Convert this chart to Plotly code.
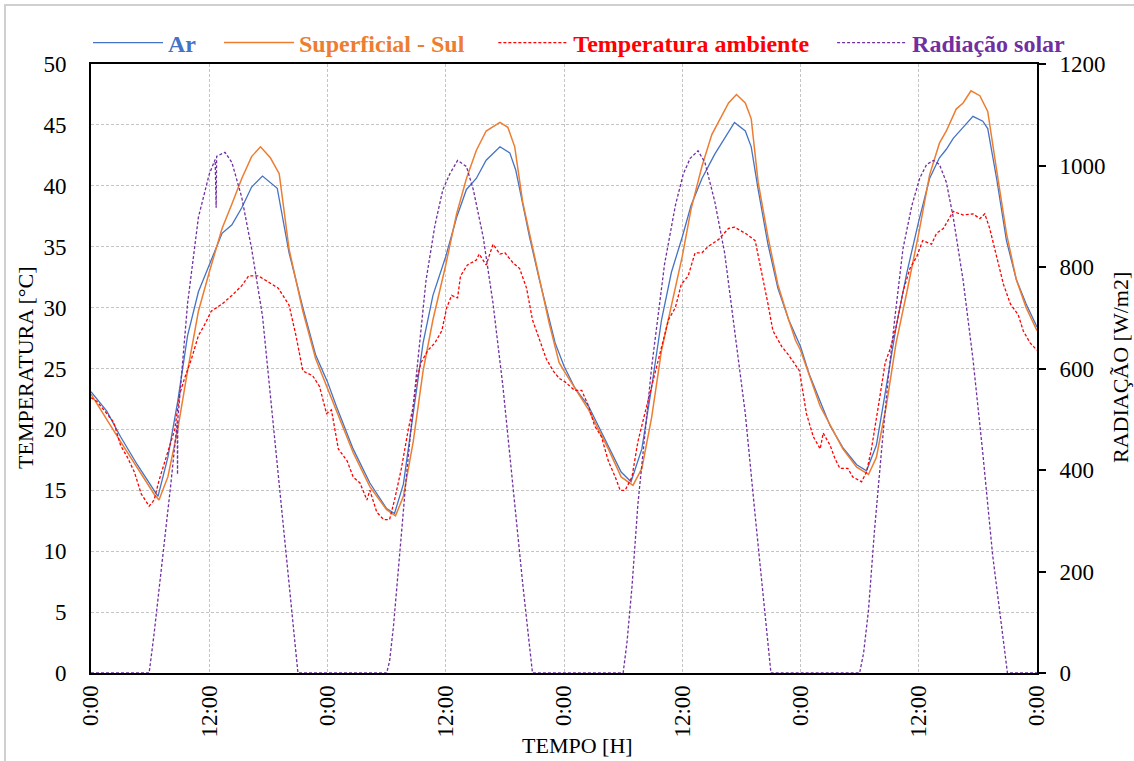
import plotly.graph_objects as go

# ---------------- data ----------------
horas_ar = [0, 1.6, 3.0, 4.7, 6.4, 6.8, 7.8, 8.8, 9.8, 10.9, 12.0, 13.3, 14.3, 15.3, 16.3, 17.4, 18.9, 20.1, 21.5, 22.8,
            24.0, 24.9, 26.6, 28.3, 30.0, 30.8, 31.7, 32.7, 33.7, 34.7, 36.0, 37.1, 38.1, 39.1, 40.1, 41.5, 42.5, 43.1, 43.8,
            44.5, 45.5, 46.5, 47.1, 48.0, 49.1, 50.5, 51.5, 52.5, 53.8, 54.8, 55.9, 56.9, 57.9, 58.9, 60.0, 60.9, 62.0,
            63.3, 64.3, 65.3, 66.4, 67.0, 67.7, 68.7, 69.7, 70.8, 72.0, 72.9, 74.0, 75.0, 76.3, 77.7, 78.7, 79.7, 80.7,
            81.7, 82.8, 84.0, 85.1, 86.1, 86.8, 87.5, 88.5, 89.5, 90.5, 91.0, 91.9, 92.9, 93.9, 94.9, 96.0]
ar = [23.1, 21.5, 19.4, 17.1, 15.0, 14.5, 17.7, 22.3, 27.7, 31.3, 33.5, 36.1, 36.8, 38.2, 39.9, 40.8, 39.8, 34.5, 30.0, 26.1,
      23.9, 21.9, 18.4, 15.6, 13.5, 13.1, 15.5, 21.3, 27.1, 31.0, 34.2, 37.4, 39.7, 40.6, 42.1, 43.2, 42.7, 41.3, 38.4,
      35.8, 32.3, 29.0, 27.1, 25.2, 23.4, 21.9, 20.3, 18.7, 16.5, 15.7, 18.4, 23.5, 29.0, 32.9, 35.8, 38.4, 40.6,
      42.6, 43.9, 45.2, 44.5, 43.2, 39.7, 35.2, 31.6, 29.0, 26.8, 24.5, 22.3, 20.3, 18.5, 17.1, 16.6, 18.7, 23.5,
      28.4, 32.9, 37.1, 40.6, 42.3, 43.0, 43.9, 44.8, 45.7, 45.3, 44.7, 40.6, 35.5, 32.3, 30.3, 28.4]

horas_sup = [0, 3.0, 6.4, 6.9, 7.8, 8.8, 9.8, 10.9, 12.0, 13.3, 14.3, 15.3, 16.3, 17.2, 18.2, 19.1, 20.1, 21.5, 22.8,
             24.0, 24.9, 26.6, 28.3, 30.0, 30.9, 31.7, 32.7, 33.7, 34.7, 36.0, 37.1, 38.1, 39.1, 40.1, 41.5, 42.3, 43.0,
             43.8, 44.5, 45.5, 46.5, 47.5, 48.0, 50.5, 52.5, 53.8, 55.0, 55.9, 56.9, 57.9, 58.9, 60.0, 60.9, 62.0, 63.0,
             64.0, 64.7, 65.5, 66.4, 67.0, 67.7, 68.7, 69.7, 70.8, 71.5, 72.0, 74.0, 76.3, 77.7, 78.9, 79.7, 80.7, 81.7,
             82.8, 84.0, 85.1, 86.1, 86.8, 87.8, 88.5, 89.3, 90.2, 91.0, 91.9, 92.9, 93.9, 94.9, 96.0]
superficial_sul = [22.9, 19.0, 14.7, 14.2, 16.1, 20.0, 24.8, 29.7, 32.9, 36.5, 38.5, 40.6, 42.4, 43.2, 42.3, 41.0, 34.8, 29.7, 25.8,
                   23.4, 21.6, 18.1, 15.3, 13.4, 12.9, 14.5, 19.0, 24.8, 29.0, 33.5, 37.7, 40.6, 42.9, 44.5, 45.2, 44.8, 43.2,
                   38.7, 36.1, 32.3, 28.7, 25.5, 24.8, 21.6, 18.4, 16.1, 15.4, 16.8, 21.0, 26.5, 30.3, 34.2, 38.1, 41.6, 44.2,
                   45.8, 46.8, 47.5, 46.8, 45.5, 40.3, 35.8, 31.9, 29.0, 27.3, 26.5, 21.9, 18.4, 16.9, 16.3, 17.7, 21.9, 27.1,
                   31.3, 36.1, 40.9, 43.5, 44.5, 46.3, 46.8, 47.8, 47.4, 46.1, 41.3, 36.1, 32.3, 30.0, 28.1]

horas_amb = [0, 0.6, 1.3, 2.3, 3.0, 3.7, 4.4, 5.1, 5.9, 6.4, 6.9, 7.6, 8.5, 9.0, 9.5, 10.2, 10.9, 11.6, 12.2, 13.3, 14.3,
             15.3, 16.0, 17.0, 18.0, 19.0, 20.1, 20.8, 21.5, 22.5, 23.2, 23.9, 24.4, 25.1, 26.0, 26.6, 27.3, 28.0, 28.3,
             29.0, 29.7, 30.3, 30.8, 31.5, 32.2, 32.7, 33.0, 33.5, 34.2, 34.9, 35.6, 36.1, 36.6, 37.2, 37.5, 38.2, 39.1,
             39.4, 40.1, 40.8, 41.5, 42.0, 42.8, 43.5, 44.2, 44.8, 45.5, 46.2, 46.9, 47.5, 48.1, 49.1, 49.8, 50.5, 51.1,
             51.8, 52.5, 53.2, 53.7, 54.2, 54.9, 55.5, 56.2, 56.9, 57.6, 58.6, 59.3, 59.9, 60.6, 61.3, 62.0, 62.6, 63.7,
             64.7, 65.3, 66.4, 67.4, 68.0, 68.7, 69.2, 70.1, 70.8, 71.6, 71.9, 72.6, 73.3, 74.0, 74.3, 75.0, 75.5, 76.0,
             76.8, 77.3, 78.2, 78.7, 79.2, 79.9, 80.6, 81.1, 81.7, 82.4, 83.1, 83.8, 84.4, 85.3, 85.8, 86.5, 87.5, 88.5,
             89.5, 90.2, 90.7, 91.2, 91.9, 92.6, 93.3, 94.1, 94.6, 95.3, 96.0]
temperatura_ambiente = [22.6, 22.3, 21.6, 20.6, 18.7, 17.7, 16.5, 14.7, 13.7, 14.2, 15.8, 17.6, 20.0, 22.9, 24.2, 25.8, 27.7, 28.7,
                        29.7, 30.3, 31.0, 31.8, 32.6, 32.6, 32.1, 31.6, 30.2, 27.7, 24.8, 24.4, 23.5, 21.3, 21.6, 18.4, 17.4,
                        16.1, 15.6, 14.2, 15.0, 13.2, 12.6, 12.6, 14.2, 16.8, 20.0, 21.9, 23.9, 25.5, 26.5, 27.1, 28.1, 30.0,
                        31.0, 30.8, 32.6, 33.5, 33.9, 34.4, 33.5, 35.2, 34.4, 34.5, 33.7, 33.2, 31.6, 29.0, 27.4, 25.8, 24.8,
                        24.2, 23.9, 23.2, 23.2, 21.9, 20.3, 19.4, 17.4, 16.1, 15.0, 15.0, 16.1, 19.0, 21.3, 23.5, 25.8, 29.0,
                        30.0, 31.9, 32.6, 34.5, 34.5, 35.0, 35.6, 36.5, 36.6, 36.1, 35.5, 33.2, 30.3, 28.1, 26.8, 26.1, 25.2,
                        24.8, 21.3, 19.4, 18.4, 19.7, 18.7, 17.6, 16.8, 16.8, 16.1, 15.7, 16.5, 18.4, 21.9, 25.5, 26.6, 28.4,
                        31.3, 33.2, 34.2, 35.5, 35.2, 36.1, 36.5, 37.9, 37.6, 37.7, 37.3, 37.7, 36.5, 34.2, 31.9, 30.3, 29.4,
                        28.1, 27.1, 26.5]

horas_rad = [0, 5.9, 6.4, 6.9, 7.6, 8.1, 8.75, 8.78, 8.81, 9.8, 10.9, 12.0, 12.6, 12.7, 12.75, 13.6, 14.3, 15.3, 16.3, 17.4,
             18.4, 19.4, 20.4, 21.0, 30.0, 30.3, 30.7, 31.3, 32.0, 32.7, 33.4, 34.0, 34.9, 35.7, 36.4, 37.2, 38.1, 38.8,
             39.8, 40.8, 41.8, 42.8, 43.8, 44.8, 54.0, 54.4, 54.9, 55.5, 56.2, 56.9, 57.6, 58.2, 59.3, 60.1, 60.8, 61.6,
             62.3, 63.3, 64.3, 65.3, 66.4, 67.4, 68.4, 69.0, 78.0, 78.4, 78.9, 79.5, 80.2, 80.9, 81.6, 82.4, 83.3, 84.1,
             84.8, 85.5, 86.1, 86.8, 87.5, 88.5, 89.5, 90.5, 91.5, 92.5, 93.0, 96.0]
radiacao_solar = [0, 0, 77, 163, 279, 372, 495, 391, 500, 728, 898, 983, 1012, 917, 1018, 1026, 1006, 937, 836, 704,
                  511, 317, 124, 0, 0, 23, 93, 232, 387, 526, 666, 774, 882, 952, 983, 1010, 998, 952,
                  859, 728, 565, 372, 178, 0, 0, 62, 170, 333, 472, 604, 712, 805, 921, 983, 1014, 1029,
                  1006, 929, 828, 681, 511, 310, 108, 0, 0, 39, 124, 279, 433, 581, 704, 836, 921, 975,
                  1002, 1010, 1002, 967, 898, 774, 619, 433, 232, 77, 0, 0]

tick_horas = [0, 12, 24, 36, 48, 60, 72, 84, 96]
tick_textos = ["0:00", "12:00", "0:00", "12:00", "0:00", "12:00", "0:00", "12:00", "0:00"]

# ---------------- styling ----------------
C_AR = "#4472C4"
C_SUP = "#ED7D31"
C_AMB = "#FF0000"
C_RAD = "#7030A0"
FONT = "Liberation Serif"
W, H = 1134, 761
PL, PR, PT, PB = 91, 1037, 64, 673   # plot area in page pixels (body margin removed below)
PW, PH = PR - PL, PB - PT


def px(xp):
    return (xp - PL) / PW


def py(yp):
    return (PB - yp) / PH


NB = "\u00a0"


def lbl(txt, col, pad):
    return f"<span style='color:{col}'><b>{txt}</b></span>" + NB * pad


fig = go.Figure()
fig.add_trace(go.Scatter(x=horas_ar, y=ar, mode="lines", name=lbl("Ar", C_AR, 3),
                         line=dict(color=C_AR, width=1.3)))
fig.add_trace(go.Scatter(x=horas_sup, y=superficial_sul, mode="lines", name=lbl("Superficial - Sul", C_SUP, 4),
                         line=dict(color=C_SUP, width=1.5)))
fig.add_trace(go.Scatter(x=horas_amb, y=temperatura_ambiente, mode="lines", name=lbl("Temperatura ambiente", C_AMB, 3),
                         line=dict(color=C_AMB, width=1.3, dash="3px,2px")))
fig.add_trace(go.Scatter(x=horas_rad, y=radiacao_solar, mode="lines", name=lbl("Radiação solar", C_RAD, 0),
                         yaxis="y2", line=dict(color=C_RAD, width=1.3, dash="3px,2px")))

grid = dict(showgrid=True, gridcolor="#C4C4C4", griddash="3px,2px", gridwidth=1)

fig.update_layout(
    width=W, height=H,
    margin=dict(l=PL, r=W - PR, t=PT, b=H - PB),
    paper_bgcolor="white", plot_bgcolor="white",
    font=dict(family=FONT, size=23, color="black"),
    showlegend=True,
    legend=dict(orientation="h", x=px(88), xanchor="left", y=py(43), yanchor="middle",
                font=dict(family=FONT, size=24), bgcolor="rgba(0,0,0,0)", itemwidth=70,
                tracegroupgap=0),
    xaxis=dict(range=[0, 96], tickvals=tick_horas, ticktext=tick_textos, tickangle=-90,
               showline=True, linecolor="black", linewidth=2, mirror=True, ticks="",
               ticklabelstandoff=1, zeroline=False, **grid),
    yaxis=dict(range=[0, 50], dtick=5, showline=True, linecolor="black", linewidth=2, mirror=True,
               ticks="", ticklabelstandoff=18, zeroline=False, **grid),
    yaxis2=dict(range=[0, 1200], dtick=200, overlaying="y", side="right", showgrid=False,
                showline=True, linecolor="black", linewidth=2, ticks="outside", ticklen=7,
                tickcolor="black", tickwidth=2, ticklabelstandoff=9, zeroline=False),
    annotations=[
        dict(text="TEMPO [H]", xref="paper", yref="paper", x=px(577), y=py(745),
             showarrow=False, xanchor="center", yanchor="middle", font=dict(size=22)),
        dict(text="TEMPERATURA [°C]", xref="paper", yref="paper", x=px(26), y=py(368),
             textangle=-90, showarrow=False, xanchor="center", yanchor="middle", font=dict(size=22)),
        dict(text="RADIAÇÃO [W/m2]", xref="paper", yref="paper", x=px(1121), y=py(368),
             textangle=-90, showarrow=False, xanchor="center", yanchor="middle", font=dict(size=22)),
    ],
    shapes=[dict(type="rect", xref="paper", yref="paper",
                 x0=px(5), x1=px(1145), y0=py(775), y1=py(5),
                 line=dict(color="#D0D0D0", width=2), fillcolor="rgba(0,0,0,0)", layer="below")],
)

fig.write_html("out.html", config={"displayModeBar": False},
               post_script="document.body.style.margin='0';document.body.style.overflow='hidden';")
